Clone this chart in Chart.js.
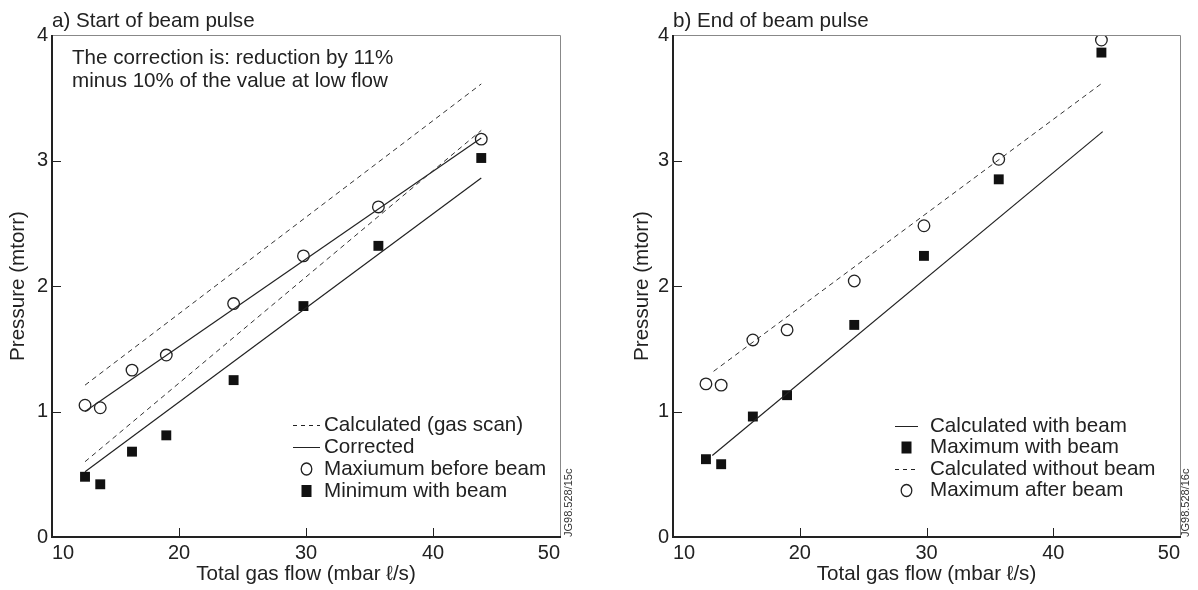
<!DOCTYPE html>
<html>
<head>
<meta charset="utf-8">
<script src="https://cdn.jsdelivr.net/npm/chart.js@4.4.1/dist/chart.umd.min.js"></script>
<style>
body { margin: 0; background: #fff; width: 1198px; height: 590px; overflow: hidden; position: relative; }
canvas { position: absolute; top: 0; }
#chartA { left: 0; }
#chartB { left: 621px; }
</style>
</head>
<body>
<canvas id="chartA" width="599" height="590"></canvas>
<canvas id="chartB" width="577" height="590"></canvas>
<script>
// gas flow of the shots (mbar l/s), same for both panels
const flow = [12.6, 13.8, 16.3, 19.0, 24.3, 29.8, 35.7, 43.8];

// a) start of beam pulse
const startMaxBefore = [1.05, 1.03, 1.33, 1.45, 1.86, 2.24, 2.63, 3.17];
const startMinWith   = [0.48, 0.42, 0.68, 0.81, 1.25, 1.84, 2.32, 3.02];
// fitted lines, only the two end points
const startLineX    = [12.6, 43.8];
const startCalcHigh = [1.21, 3.61];
const startCalcLow  = [0.60, 3.24];
const startCorrHigh = [1.00, 3.18];
const startCorrLow  = [0.52, 2.86];

// b) end of beam pulse
const endMaxAfter = [1.22, 1.21, 1.57, 1.65, 2.04, 2.48, 3.01, 3.96];
const endMaxWith  = [0.62, 0.58, 0.96, 1.13, 1.69, 2.24, 2.85, 3.86];
const endWithX    = [13.1, 43.9];
const endWith     = [0.65, 3.23];
const endWithoutX = [13.2, 43.9];
const endWithout  = [1.32, 3.62];

const xTicks = [10, 20, 30, 40, 50];
const yTicks = [0, 1, 2, 3, 4];

const INK = '#222';
const FONT = 'Liberation Sans, Arial, Helvetica, sans-serif';
const TXT = 20.6; // size of the labels and notes

function pts(xs, ys) {
  return ys.map((v, i) => ({x: xs[i], y: v}));
}

function lineSet(xs, ys, dashed) {
  return {
    data: pts(xs, ys), showLine: true, pointRadius: 0,
    borderColor: dashed ? '#333' : INK, borderWidth: dashed ? 1 : 1.2,
    borderDash: dashed ? [5, 4] : []
  };
}
function circleSet(ys) {
  return {
    data: pts(flow, ys), showLine: false, pointStyle: 'circle', pointRadius: 5.8,
    pointBackgroundColor: '#fff', pointBorderColor: INK, pointBorderWidth: 1.3
  };
}
function squareSet(ys) {
  return {
    data: pts(flow, ys), showLine: false, pointStyle: 'rect', pointRadius: 7,
    pointBackgroundColor: '#111', pointBorderColor: '#111', pointBorderWidth: 0
  };
}

// box round the plot with the ticks pointing inwards
const framePlugin = {
  id: 'frame',
  afterDraw(chart) {
    const {ctx, chartArea: a, scales: {x, y}} = chart;
    ctx.save();
    ctx.strokeStyle = '#888';
    ctx.lineWidth = 1;
    ctx.beginPath();
    ctx.moveTo(a.left, a.top + 0.5);
    ctx.lineTo(a.right + 0.5, a.top + 0.5);
    ctx.lineTo(a.right + 0.5, a.bottom);
    ctx.stroke();

    ctx.strokeStyle = INK;
    ctx.beginPath();
    x.ticks.forEach(t => {
      if (t.value <= x.min || t.value >= x.max) return;
      const px = Math.round(x.getPixelForValue(t.value)) + 0.5;
      ctx.moveTo(px, a.bottom);
      ctx.lineTo(px, a.bottom - 9);
    });
    y.ticks.forEach(t => {
      if (t.value <= y.min || t.value >= y.max) return;
      const py = Math.round(y.getPixelForValue(t.value)) + 0.5;
      ctx.moveTo(a.left, py);
      ctx.lineTo(a.left + 9, py);
    });
    ctx.stroke();

    ctx.lineWidth = 2;
    ctx.beginPath();
    ctx.moveTo(a.left, a.top);
    ctx.lineTo(a.left, a.bottom);
    ctx.lineTo(a.right + 1, a.bottom);
    ctx.stroke();
    ctx.restore();
  }
};

// panel title, note text and the figure number
const notesPlugin = {
  id: 'notes',
  afterDraw(chart, args, o) {
    const {ctx, chartArea: a} = chart;
    ctx.save();
    ctx.fillStyle = INK;
    ctx.textBaseline = 'middle';
    ctx.font = TXT + 'px ' + FONT;
    ctx.fillText(o.title, a.left, 21);
    (o.lines || []).forEach((t, i) => ctx.fillText(t, 72, 58 + i * 23));
    ctx.translate(o.jgX, a.bottom);
    ctx.rotate(-Math.PI / 2);
    ctx.font = '11px ' + FONT;
    ctx.fillStyle = '#333';
    ctx.fillText(o.jg, 0, 0);
    ctx.restore();
  }
};

// legend inside the plot
const keyPlugin = {
  id: 'key',
  afterDraw(chart, args, o) {
    const ctx = chart.ctx;
    ctx.save();
    ctx.font = TXT + 'px ' + FONT;
    ctx.textBaseline = 'middle';
    o.items.forEach((it, i) => {
      const y = o.y + i * o.dy;
      const mid = (o.x0 + o.x1) / 2;
      ctx.strokeStyle = INK;
      ctx.fillStyle = INK;
      ctx.lineWidth = 1;
      if (it.kind === 'dash' || it.kind === 'solid') {
        ctx.setLineDash(it.kind === 'dash' ? [4, 4] : []);
        ctx.beginPath();
        ctx.moveTo(o.x0, y + 0.5);
        ctx.lineTo(o.x1, y + 0.5);
        ctx.stroke();
        ctx.setLineDash([]);
      } else if (it.kind === 'circle') {
        ctx.lineWidth = 1.3;
        ctx.beginPath();
        ctx.ellipse(mid, y, 5.3, 6, 0, 0, Math.PI * 2);
        ctx.stroke();
      } else {
        ctx.fillStyle = '#111';
        ctx.fillRect(mid - 5, y - 6, 10, 12);
        ctx.fillStyle = INK;
      }
      ctx.fillText(it.label, o.tx, y);
    });
    ctx.restore();
  }
};

function makeChart(id, datasets, o) {
  return new Chart(document.getElementById(id), {
    type: 'scatter',
    data: {datasets},
    plugins: [framePlugin, notesPlugin, keyPlugin],
    options: {
      responsive: false,
      animation: false,
      devicePixelRatio: 1,
      layout: {padding: {top: 35, right: o.padRight, left: 0, bottom: 0}},
      plugins: {
        legend: {display: false},
        tooltip: {enabled: false},
        notes: o.notes,
        key: o.key
      },
      scales: {
        x: {
          type: 'linear', min: xTicks[0], max: xTicks[xTicks.length - 1],
          afterFit(s) { s.height = 53; },
          afterBuildTicks(s) { s.ticks = xTicks.map(v => ({value: v})); },
          grid: {display: false, drawTicks: false},
          border: {display: false},
          ticks: {align: 'inner', padding: 4, color: INK, font: {family: FONT, size: 20}, maxRotation: 0},
          title: {display: true, text: 'Total gas flow (mbar ℓ/s)', color: INK,
                  font: {family: FONT, size: TXT}, padding: {top: 0, bottom: 3}}
        },
        y: {
          type: 'linear', min: yTicks[0], max: yTicks[yTicks.length - 1],
          afterFit(s) { s.width = 52; },
          afterBuildTicks(s) { s.ticks = yTicks.map(v => ({value: v})); },
          grid: {display: false, drawTicks: false},
          border: {display: false},
          ticks: {padding: 4, color: INK, font: {family: FONT, size: 20}},
          title: {display: true, text: 'Pressure (mtorr)', color: INK,
                  font: {family: FONT, size: TXT}, padding: {top: o.yTitlePad, bottom: 0}}
        }
      }
    }
  });
}

makeChart('chartA', [
  lineSet(startLineX, startCalcHigh, true),
  lineSet(startLineX, startCalcLow, true),
  lineSet(startLineX, startCorrHigh, false),
  lineSet(startLineX, startCorrLow, false),
  circleSet(startMaxBefore),
  squareSet(startMinWith)
], {
  padRight: 39,
  yTitlePad: 6,
  notes: {
    title: 'a) Start of beam pulse',
    lines: ['The correction is: reduction by 11%', 'minus 10% of the value at low flow'],
    jg: 'JG98.528/15c', jgX: 569
  },
  key: {
    x0: 293, x1: 320, tx: 324, y: 425, dy: 22,
    items: [
      {kind: 'dash', label: 'Calculated (gas scan)'},
      {kind: 'solid', label: 'Corrected'},
      {kind: 'circle', label: 'Maxiumum before beam'},
      {kind: 'square', label: 'Minimum with beam'}
    ]
  }
});

makeChart('chartB', [
  lineSet(endWithX, endWith, false),
  lineSet(endWithoutX, endWithout, true),
  circleSet(endMaxAfter),
  squareSet(endMaxWith)
], {
  padRight: 18,
  yTitlePad: 9,
  notes: {
    title: 'b) End of beam pulse',
    lines: [],
    jg: 'JG98.528/16c', jgX: 565
  },
  key: {
    x0: 274, x1: 297, tx: 309, y: 426, dy: 21.5,
    items: [
      {kind: 'solid', label: 'Calculated with beam'},
      {kind: 'square', label: 'Maximum with beam'},
      {kind: 'dash', label: 'Calculated without beam'},
      {kind: 'circle', label: 'Maximum after beam'}
    ]
  }
});
</script>
</body>
</html>
